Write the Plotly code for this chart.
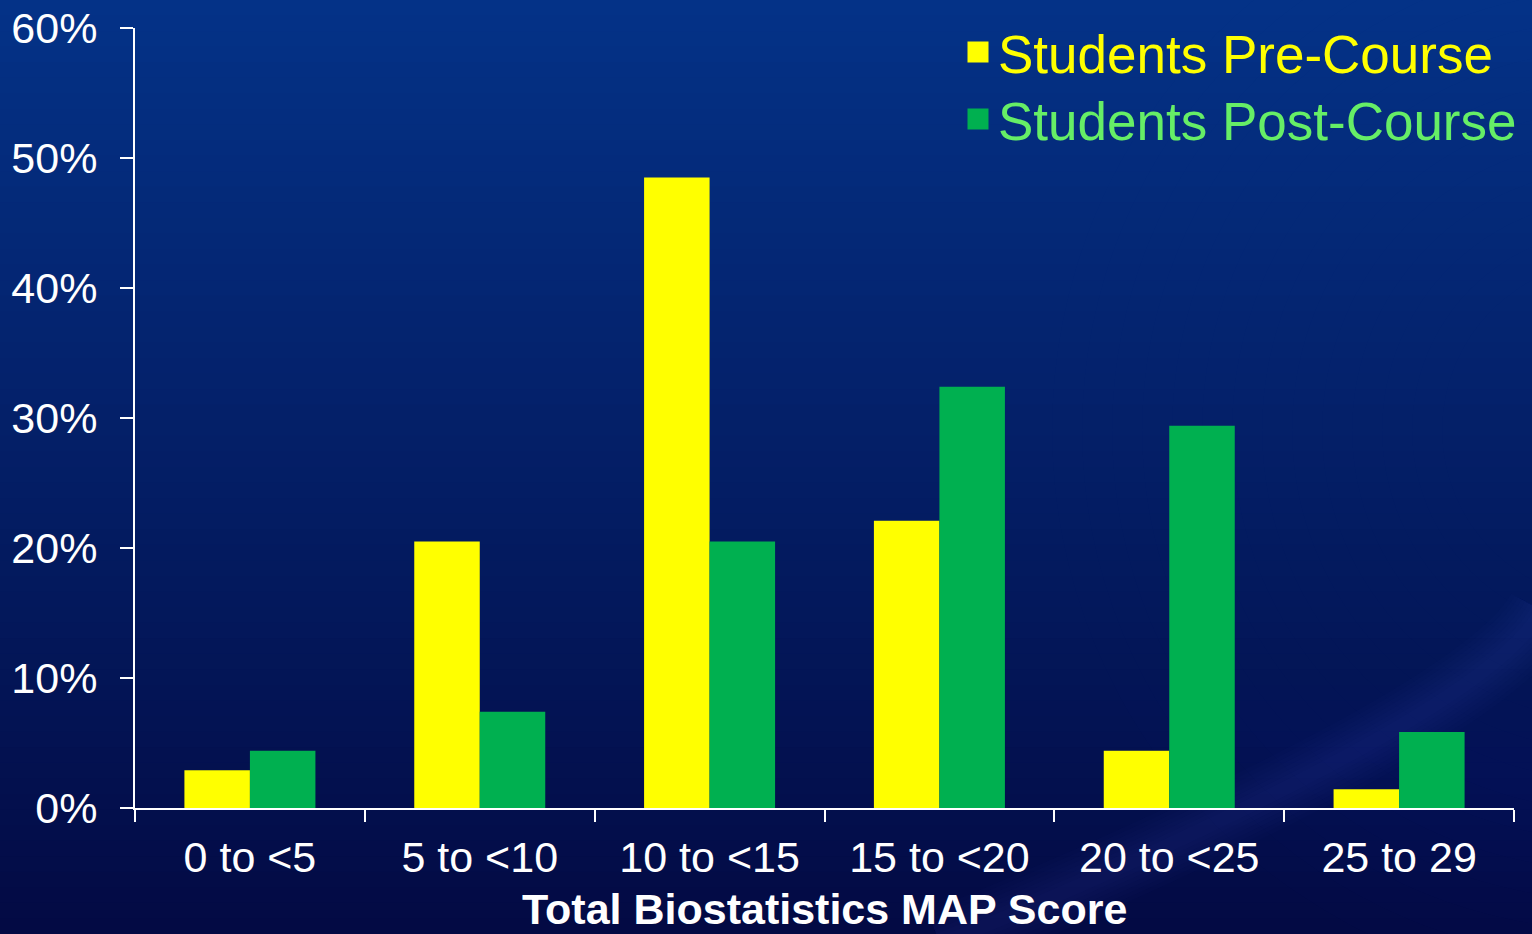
import plotly.graph_objects as go

categories = ["0 to <5", "5 to <10", "10 to <15", "15 to <20", "20 to <25", "25 to 29"]
pre_course = [2.9, 20.5, 48.5, 22.1, 4.4, 1.45]
post_course = [4.4, 7.4, 20.5, 32.4, 29.4, 5.85]
y_ticks = [0, 10, 20, 30, 40, 50, 60]
y_tick_text = ["0%", "10%", "20%", "30%", "40%", "50%", "60%"]
pre_name = "Students Pre-Course"
post_name = "Students Post-Course"
x_title = "Total Biostatistics MAP Score"
pre_color = "#FFFF00"
post_color = "#00B050"

W, H = 1532, 934
ML, MR, MT, MB = 135, 18, 28, 126
pw = W - ML - MR
ph = H - MT - MB


def px(x):
    return (x - ML) / pw


def py(y):
    return 1 - (y - MT) / ph


fig = go.Figure()
fig.add_trace(go.Bar(x=categories, y=pre_course, name=pre_name, showlegend=False,
                     marker=dict(color=pre_color, line=dict(width=0))))
fig.add_trace(go.Bar(x=categories, y=post_course, name=post_name, showlegend=False,
                     marker=dict(color=post_color, line=dict(width=0))))
# legend entries
fig.add_trace(go.Scatter(x=[None], y=[None], mode="markers", legend="legend",
                         name='<span style="color:#FFFF00">%s</span>' % pre_name,
                         marker=dict(symbol="square", size=22, color=pre_color,
                                     line=dict(color=pre_color, width=5))))
fig.add_trace(go.Scatter(x=[None], y=[None], mode="markers", legend="legend2",
                         name='<span style="color:#66EE66">%s</span>' % post_name,
                         marker=dict(symbol="square", size=22, color=post_color,
                                     line=dict(color=post_color, width=5))))

# background gradient (decoration)
top = (4, 50, 135)
bot = (3, 10, 68)
n = 60
shapes = []
band = H / n
for i in range(n):
    t = i / (n - 1)
    c = tuple(int(round(top[k] + (bot[k] - top[k]) * t)) for k in range(3))
    shapes.append(dict(type="rect", xref="paper", yref="paper",
                       x0=px(0), x1=px(W), y0=py(i * band + band + 1), y1=py(i * band),
                       fillcolor="rgb(%d,%d,%d)" % c, line=dict(width=0),
                       layer="below"))

# soft glow towards the upper right (decoration)
for j in range(14):
    r = 560 - j * 30
    cx, cy = W + 80, 430
    shapes.append(dict(type="circle", xref="paper", yref="paper",
                       x0=px(cx - r), x1=px(cx + r), y0=py(cy + r), y1=py(cy - r),
                       fillcolor="rgba(70,100,200,0.012)", line=dict(width=0),
                       layer="below"))

# light swoosh band near the bottom right (decoration)
for j in range(8):
    w = 70 - j * 8
    path = "M %f,%f Q %f,%f %f,%f T %f,%f" % (
        px(940), py(H + 10), px(1150), py(860), px(1330), py(765), px(W + 10), py(610))
    shapes.append(dict(type="path", xref="paper", yref="paper", path=path,
                       line=dict(color="rgba(130,150,230,0.016)", width=w),
                       layer="below"))

leg_common = dict(xanchor="left", yanchor="top", bgcolor="rgba(0,0,0,0)",
                  font=dict(size=53), itemwidth=30, itemsizing="trace")

fig.update_layout(
    width=W, height=H,
    margin=dict(l=ML, r=MR, t=MT, b=MB, autoexpand=False),
    paper_bgcolor="rgb(4,30,100)",
    plot_bgcolor="rgba(0,0,0,0)",
    barmode="group", bargap=0.43, bargroupgap=0,
    font=dict(family="Liberation Sans, Arial, sans-serif", color="white", size=43),
    shapes=shapes,
    showlegend=True,
    legend=dict(x=px(958), y=py(11), **leg_common),
    legend2=dict(x=px(958), y=py(78), **leg_common),
    annotations=[dict(text="<b>%s</b>" % x_title, xref="paper", yref="paper",
                      x=0.5, y=py(909), xanchor="center", yanchor="middle",
                      showarrow=False, font=dict(size=43, color="white"))],
    xaxis=dict(type="category", showgrid=False, showline=True, linecolor="white",
               linewidth=2, ticks="outside", tickson="boundaries", ticklen=12,
               tickcolor="white", tickwidth=2, tickfont=dict(size=43, color="white"),
               ticklabelstandoff=10, zeroline=False),
    yaxis=dict(range=[0, 60], tickvals=y_ticks, ticktext=y_tick_text, showgrid=False,
               showline=True, linecolor="white", linewidth=2, ticks="outside",
               ticklen=13, tickcolor="white", tickwidth=2, ticklabelstandoff=14,
               tickfont=dict(size=43, color="white"), zeroline=False),
)

fig.write_html("out.html")
